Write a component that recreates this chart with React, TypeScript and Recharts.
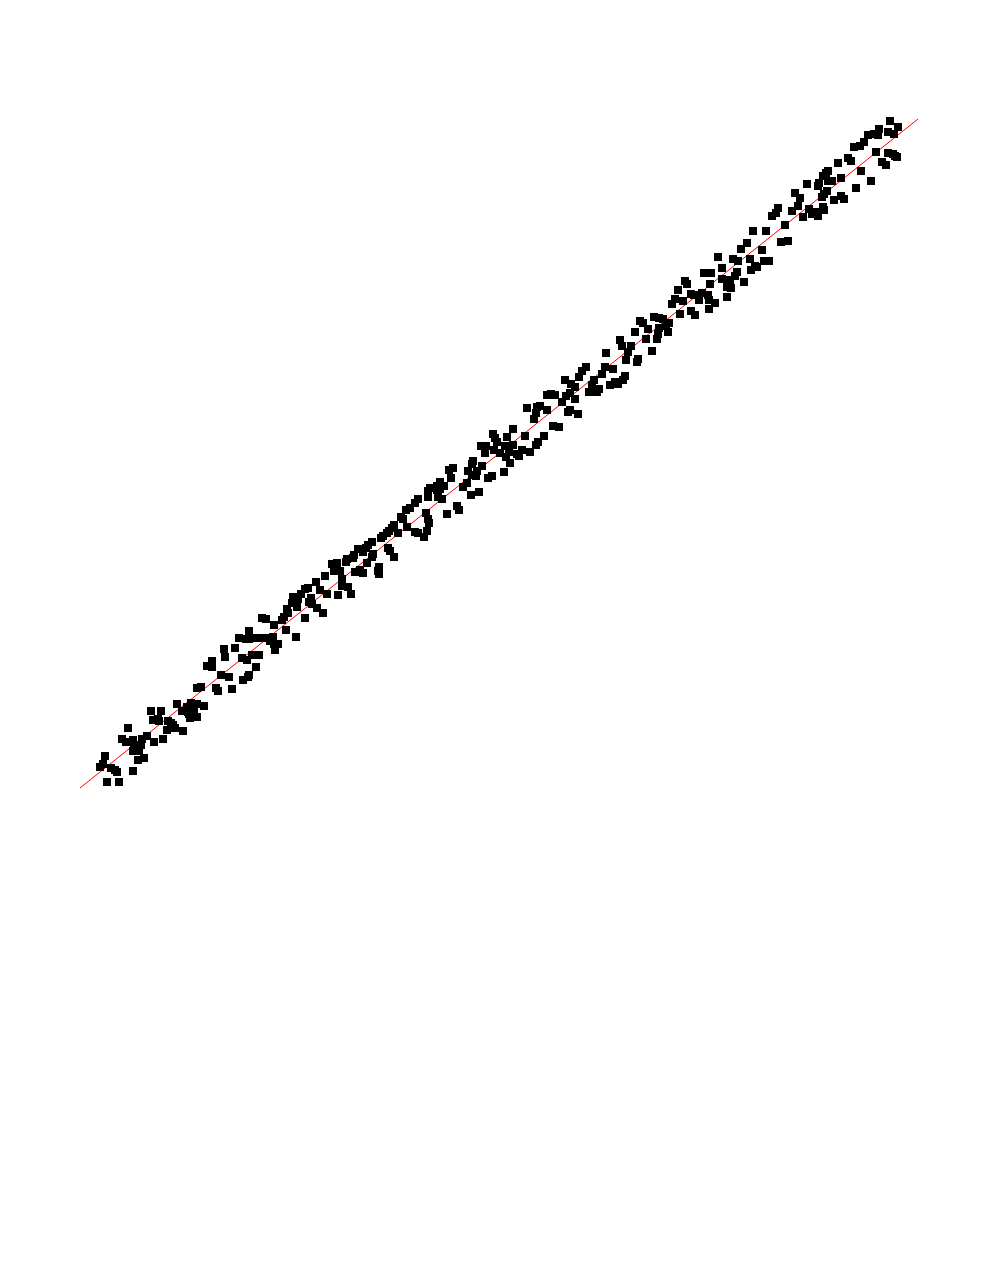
import React from 'react';
import { ScatterChart, Scatter, XAxis, YAxis, ZAxis, ReferenceLine } from 'recharts';

const points: [number, number][] = [
  [71, 77], [73, 68], [48, 60], [42, 49], [46, 46], [53, 48], [62, 49], [67, 52], [74, 46], [61, 43],
  [54, 42], [53, 37], [59, 37], [58, 28], [64, 30], [25, 32], [23, 24], [20, 21], [31, 20], [35, 18],
  [37, 16], [53, 17], [27, 6], [39, 6],
  [144, 139], [145, 131], [132, 127], [127, 122], [132, 121], [141, 113], [136, 100], [138, 97], [117, 100], [121, 101],
  [97, 84], [111, 85], [117, 84], [124, 82], [107, 81], [102, 77], [108, 76], [114, 78], [109, 74], [110, 70],
  [117, 71], [81, 77], [78, 69], [79, 67], [88, 67], [91, 65], [93, 63], [95, 60], [87, 58], [103, 57], [83, 49],
  [213, 191], [212, 185], [207, 179], [208, 175], [204, 171], [202, 168], [182, 170], [186, 169], [194, 163], [206, 158],
  [216, 151], [169, 157], [159, 150], [166, 149], [169, 149], [176, 150], [184, 150], [188, 150], [193, 151], [190, 147],
  [194, 144], [198, 144], [195, 138], [155, 140], [162, 130], [167, 128], [172, 133], [179, 133], [176, 121], [169, 113],
  [168, 111], [163, 108], [149, 111], [152, 99],
  [278, 239], [283, 236], [274, 233], [273, 230], [267, 229], [266, 226], [252, 224], [257, 225], [254, 217], [260, 217],
  [275, 216], [280, 218], [283, 215], [245, 212], [262, 209], [236, 206], [262, 202], [268, 201], [225, 199], [228, 200],
  [240, 198], [221, 194], [247, 194], [258, 193], [271, 194], [218, 189], [231, 190], [229, 186], [232, 184], [237, 180],
  [217, 181], [243, 175], [225, 170],
  [350, 300], [348, 297], [348, 291], [338, 289], [335, 285], [330, 280], [326, 278], [346, 275], [321, 271], [323, 269],
  [348, 269], [349, 265], [314, 263], [312, 260], [327, 261], [347, 257], [335, 256], [338, 255], [309, 257], [307, 255],
  [318, 255], [303, 252], [301, 250], [344, 251], [292, 246], [288, 243], [286, 240], [308, 240], [310, 237], [293, 234],
  [292, 231], [314, 231], [287, 225], [299, 221], [298, 217], [299, 214],
  [413, 354], [415, 350], [417, 346], [425, 342], [401, 342], [406, 342], [405, 335], [414, 338], [420, 335], [426, 331],
  [393, 327], [392, 324], [402, 322], [373, 320], [369, 318], [388, 317], [397, 317], [424, 316], [392, 313], [396, 312],
  [412, 312], [408, 310], [371, 310], [360, 306], [387, 305], [364, 302], [383, 301], [357, 302], [360, 299], [357, 298],
  [399, 296], [391, 293], [358, 291], [362, 289], [377, 282], [379, 278], [367, 274],
  [485, 408], [491, 404], [495, 401], [467, 393], [471, 394], [475, 393], [486, 392], [490, 395], [482, 386], [495, 389],
  [457, 381], [460, 382], [447, 380], [467, 378], [490, 378], [488, 376], [456, 375], [454, 369], [473, 362], [479, 361],
  [433, 359], [464, 352], [445, 352], [427, 351], [458, 346], [456, 343], [433, 343], [442, 338], [450, 336], [429, 336],
  [437, 334], [439, 332], [430, 325],
  [560, 467], [563, 465], [555, 456], [540, 448], [542, 442], [551, 442], [548, 436], [526, 435], [546, 428], [558, 429],
  [557, 426], [506, 421], [502, 417], [525, 421], [533, 419], [522, 414], [499, 411], [545, 412], [543, 408], [514, 408],
  [512, 403], [535, 406], [538, 404], [530, 403], [519, 399], [517, 396], [509, 396], [498, 374],
  [624, 515], [631, 515], [605, 507], [607, 504], [630, 504], [598, 498], [611, 494], [614, 493], [622, 495], [628, 493],
  [629, 488], [635, 485], [595, 489], [603, 487], [619, 488], [592, 484], [629, 479], [600, 474], [611, 477], [615, 473],
  [574, 471], [579, 470], [583, 469], [589, 465], [586, 462], [579, 460], [568, 459], [588, 456], [578, 454], [577, 449],
  [566, 449], [572, 437],
  [698, 580], [696, 575], [692, 572], [673, 557], [686, 557], [705, 563], [701, 546], [667, 545], [661, 539], [682, 538],
  [638, 531], [653, 529], [658, 527], [670, 529], [684, 527], [689, 527], [675, 522], [677, 521], [671, 518], [642, 520],
  [657, 516], [655, 512], [642, 509], [650, 508], [664, 506], [647, 501], [651, 500], [647, 491],
  [774, 641], [768, 630], [771, 627], [758, 625], [748, 617], [746, 615], [743, 612], [761, 610], [748, 607], [752, 607],
  [727, 604], [739, 605], [738, 602], [776, 600], [747, 597], [744, 594], [715, 595], [742, 591], [720, 590], [754, 588],
  [761, 592], [764, 589], [718, 582], [743, 581], [744, 578], [712, 577], [729, 579], [732, 574], [736, 576], [738, 572],
  [723, 571], [708, 547],
  [810, 667], [818, 661], [799, 659], [808, 656], [814, 654], [794, 654], [798, 653], [788, 653], [784, 646], [780, 642],
  [796, 636], [808, 635], [813, 634], [815, 632], [817, 631], [802, 626], [806, 623], [781, 617], [791, 607],
];

// fitted line, drawn across the whole plot
const fitStart = { x: 0, y: 0 };
const fitEnd = { x: 838, y: 669 };

const xDomain: [number, number] = [0, 838];
const yDomain: [number, number] = [0, 669];

const data = points.map(([x, y]) => ({ x, y }));

const App = () => {
  return (
    <div style={{ width: 982, height: 1000 }}>
      <ScatterChart width={982} height={1000} margin={{ top: 111, right: 72, bottom: 220, left: 72 }}>
        <XAxis type="number" dataKey="x" domain={xDomain} hide />
        <YAxis type="number" dataKey="y" domain={yDomain} hide />
        <ZAxis range={[25, 25]} />
        <ReferenceLine segment={[fitStart, fitEnd]} stroke="#ff0000" strokeWidth={1} />
        <Scatter data={data} shape="square" fill="#000000" isAnimationActive={false} />
      </ScatterChart>
    </div>
  );
};

export default App;
